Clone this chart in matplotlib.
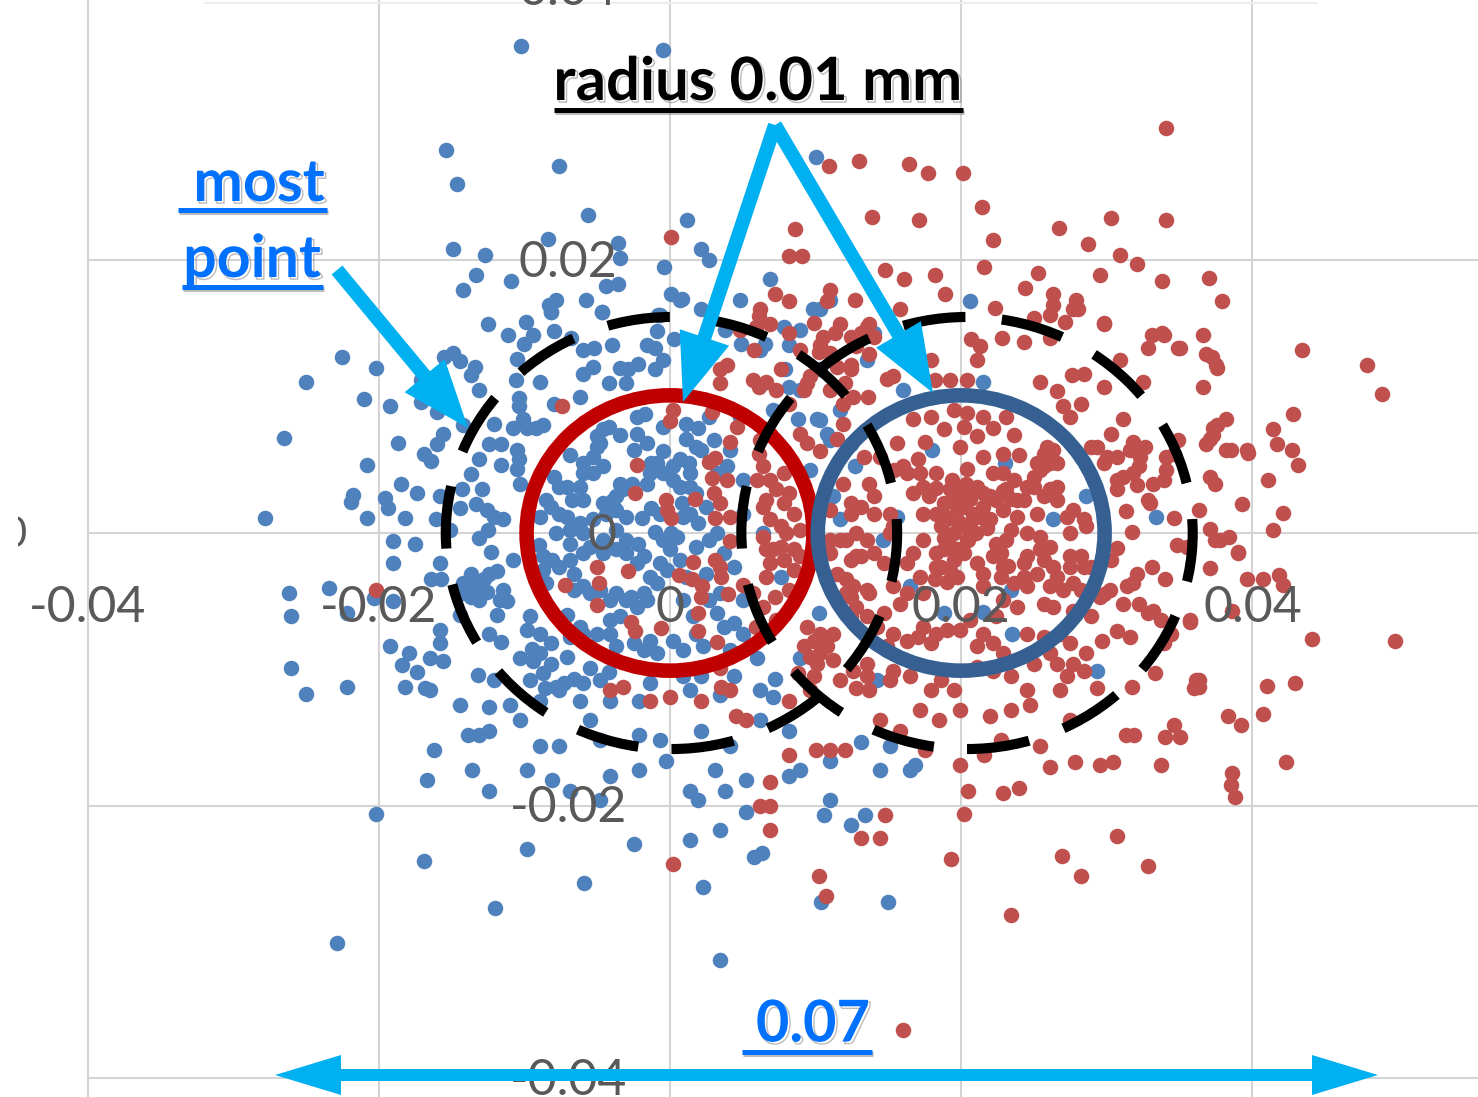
import numpy as np
import matplotlib
matplotlib.use("Agg")
import matplotlib.pyplot as plt
from matplotlib.patches import Ellipse, FancyArrow, Rectangle
import matplotlib.patheffects as pe

# point positions, in micrometres (x, y)
blue_um = [
(-10.2,35.7),(-0.5,35.4),(-15.4,28.1),(-14.6,25.6),(-7.6,26.9),(-5.6,23.3),(1.2,23.0),(10.0,27.6),(-14.9,20.8),(-12.7,20.4),
(-8.4,21.6),(-3.6,21.3),(-3.4,20.2),(-0.4,19.5),(-13.3,18.9),(-10.9,18.5),(-14.2,17.8),(-4.4,18.1),(-3.6,18.3),(0.1,17.5),
(0.8,17.2),(-5.8,17.1),(-7.8,17.1),(-8.3,16.7),(-8.2,16.2),(-4.7,16.2),(-0.8,16.0),
(-22.5,12.9),(-20.2,12.1),(-25.0,11.1),(-21.0,9.8),(-19.2,9.3),(-26.5,7.0),(-18.7,6.6),(-20.8,5.0),(-18.5,3.6),(-17.4,2.9),
(-21.8,2.8),(-21.9,2.3),(-19.6,2.6),(-19.4,1.8),(-27.8,1.1),(-20.8,1.1),(-18.2,1.1),(-16.1,1.0),(-15.8,2.7),(-19.0,-0.6),
(-17.5,-0.8),(-19.0,-2.2),(-26.2,-4.4),(-23.4,-4.0),(-26.0,-6.1),(-20.3,-4.8),(-22.2,-5.9),(-19.0,-5.0),(-19.2,-8.3),(-15.8,-7.1),
(-15.8,-8.1),(-17.9,-8.8),(-16.5,-9.2),(-15.6,-9.4),(-18.4,-9.7),(-26.0,-9.9),(-17.4,-10.2),(-22.2,-11.3),(-18.2,-11.3),(-25.0,-11.8),
(-16.8,-11.4),(-13.2,-10.4),(-12.1,-10.8),(-12.5,15.3),(-9.9,15.5),(-11.1,14.5),(-9.4,14.5),(-10.0,13.9),(-8.0,14.8),(-10.5,12.8),
(-15.5,12.9),(-14.9,13.2),(-14.4,12.6),(-13.4,12.2),(-13.7,11.6),(-13.1,10.5),(-17.1,11.2),(-17.1,9.6),(-16.0,8.9),(-10.6,11.2),
(-8.9,11.1),(-10.4,9.9),(-10.4,9.3),(-10.1,8.4),(-10.8,7.7),(-12.1,8.0),(-14.2,7.9),(-15.6,7.3),(-16.0,6.5),(-16.9,5.8),
(-16.4,5.3),(-12.4,6.5),(-11.6,6.5),(-10.5,6.1),(-10.4,5.4),(-13.1,5.4),(-11.6,5.0),(-13.7,4.3),(-10.5,4.7),(-10.3,3.6),
(-14.3,3.2),(-12.9,3.2),(-13.3,2.1),(-12.6,1.7),(-11.5,1.0),(-12.1,1.2),(-12.5,0.2),(-13.1,-0.4),(-12.3,-1.4),(-10.8,-2.0),
(-14.4,1.8),(-15.1,0.2),(-15.8,-2.2),(-16.4,-3.4),(-15.7,-3.4),(-13.7,-3.0),(-12.4,-3.0),(-11.9,-2.8),(-14.2,-4.4),(-13.3,-3.9),
(-12.6,-4.3),(-11.7,-4.9),(-11.2,-5.0),(-11.9,-6.0),(-14.4,-6.0),(-12.4,-7.4),(-11.6,-8.0),(-9.6,-6.1),(-9.8,-7.1),(-8.9,-7.4),
(-9.5,-8.5),(-10.3,-9.2),(-9.4,-9.4),(-8.2,-9.6),(-7.1,-9.1),(-5.5,-9.9),(-6.6,-10.7),(-7.3,-11.0),(-8.6,-11.4),(-7.8,-11.3),
(-4.2,-10.2),(-8.2,16.2),(-4.7,16.2),(-6.8,14.3),(-6.0,13.4),(-5.2,13.6),(-4.0,13.8),(-0.7,16.0),(-0.9,14.8),(0.3,14.2),
(-1.6,13.8),(-1.0,13.6),(4.9,13.9),(-2.2,12.4),(-3.4,12.1),(-2.9,12.0),(-5.3,12.2),(-6.0,11.7),(-0.5,12.7),(-1.0,12.0),
(-4.2,11.0),(-3.0,11.0),(-8.0,9.5),(-6.2,10.0),(-2.3,8.5),(-1.7,8.7),(-0.5,7.8),(1.1,8.0),(1.9,7.7),(1.1,6.9),
(-4.2,7.8),(-5.0,7.1),(-3.4,7.2),(-2.3,7.3),(-1.6,6.6),(-0.5,6.0),(-9.2,7.7),(-8.7,7.9),(-9.8,7.7),
(-6.9,5.7),(-6.0,5.1),(-5.3,4.4),(-4.6,4.9),(-5.0,6.3),(-5.3,5.6),(-8.0,4.1),(-7.1,3.4),(-6.2,3.4),(-6.0,2.4),
(-8.5,2.4),(-8.9,1.2),(-7.6,1.4),(-6.9,0.2),(-6.2,0.7),(-4.6,2.2),(-3.7,1.7),(-3.0,1.2),(-1.9,1.1),(-1.3,1.8),
(-3.4,3.6),(-2.6,3.6),(-1.3,5.1),(-1.4,4.4),(0.2,4.9),(1.3,5.1),(1.4,4.4),(0.2,3.9),(0.8,2.2),(1.4,1.4),
(1.9,0.7),(0.1,0.0),(-1.0,0.1),(-2.2,-0.8),(-3.0,-1.5),(-4.6,-0.5),(-3.7,-1.2),(-6.0,-1.5),(-6.9,-0.8),(-9.0,-0.9),
(-8.1,-2.0),(-8.7,-2.7),(-7.6,-2.5),(-6.6,-3.0),(-6.0,-3.9),(-4.8,-4.2),(-3.7,-4.4),(-2.7,-4.7),(-1.8,-4.4),(-1.4,-3.2),
(-0.7,-2.2),(0.0,-1.2),(0.7,-2.0),(1.8,-1.0),(2.7,-0.5),(3.2,0.0),(3.7,-1.5),(4.4,-2.5),(1.1,-3.2),(2.5,-3.0),
(3.4,-4.4),(3.2,-5.9),(4.4,-6.6),(0.9,-8.6),(0.2,-7.9),(-1.4,-7.9),(-4.1,-6.4),(-4.1,-7.4),(-5.0,-7.4),(-3.7,-8.3),
(-1.8,-8.6),(-7.1,-6.0),(-6.2,-6.9),(5.0,-4.9),(2.3,-8.3),(4.1,-8.6),(0.9,-10.5),(4.4,-10.5),(5.0,1.4),(1.8,2.9),
(0.7,5.4),(3.0,6.8),(1.8,6.3),(4.1,6.1),(5.0,3.9),(2.7,8.5),(4.8,8.5),(3.9,4.9),
(-20.2,-20.6),(-16.9,-24.1),(-22.9,-30.1),(-12.0,-27.5),(-5.9,-25.7),(-9.8,-23.2),(-2.5,-22.8),(3.4,-31.3),(2.3,-26.0),(10.4,-27.1),
(15.0,-27.1),(6.3,-23.5),(5.8,-23.8),(1.4,-22.5),(3.4,-21.8),(5.2,-20.5),(-16.7,-18.1),(-16.2,-15.9),(-13.9,-14.8),(-12.4,-14.5),
(-13.6,-17.4),(-12.4,-18.9),(-9.8,-17.4),(-8.1,-18.1),(-6.9,-18.9),(-4.8,-19.6),(-4.1,-17.8),(-2.1,-17.4),(-0.3,-16.7),(1.4,-18.9),
(1.9,-19.6),(3.1,-17.4),(3.8,-18.9),(5.2,-18.1),(8.2,-17.8),(8.9,-17.4),(11.0,-19.6),(10.6,-20.7),(12.4,-21.4),(13.4,-20.7),
(11.0,-16.7),(13.1,-15.3),(15.1,-15.6),(16.5,-17.4),(16.8,-17.0),(14.4,-17.4),(-4.8,-15.2),(-5.5,-13.7),(-7.6,-15.6),(-8.9,-15.6),
(-10.3,-13.7),(-2.1,-14.8),(-0.7,-15.2),(2.1,-14.5),(4.1,-15.6),(6.2,-13.7),(8.2,-14.5),(-4.1,-12.3),(-6.2,-12.3),(-2.1,-12.3),
(1.4,-11.5),(3.4,-11.9),(6.2,-11.5),(-16.5,-11.5),(-14.4,-12.6),(-12.4,-12.8),(-13.1,-14.8),(-11.0,-12.6),(-8.9,-12.3),(-7.6,-11.5),
(-9.6,-10.8),(-4.8,-10.8),
(2.1,20.8),(2.7,20.0),(6.9,18.6),(4.8,17.1),(2.1,16.4),(0.7,17.1),(3.8,14.9),(6.2,13.4),(8.2,13.8),(8.9,14.9),
(10.3,16.4),(11.0,17.1),(10.3,12.0),(8.9,10.5),(10.3,8.3),(11.7,9.0),(12.4,6.5),(11.0,6.8),(9.6,4.6),
(12.7,4.9),(18.0,6.1),(23.0,5.1),(21.5,11.1),(26.3,1.0),(28.6,2.7),(33.4,1.2),(11.7,1.0),(11.2,2.7),(15.6,1.2),
(14.6,-0.5),(16.5,-3.9),(18.8,-5.9),(21.5,-5.8),(23.4,-4.2),(23.5,-7.4),(29.3,-10.1),(10.2,-5.9),(13.5,12.7),(7.9,12.0),
(8.2,10.7),(16.0,10.5),(10.1,8.4),(10.8,7.3),(8.8,8.4),(7.1,9.0),(6.4,0.0),(7.6,-3.2),(6.0,-9.2),(8.9,-9.2),
(7.2,-10.7),(14.2,-10.8),(7.1,-12.0),(20.6,17.0),(9.8,16.4),(7.8,15.1),(6.5,13.9),(14.0,14.7),
(-4.6,7.6),(-4.8,6.6),(-6.0,4.4),(-7.6,3.4),(-6.7,2.4),(-8.2,1.9),(-7.1,1.2),(-7.8,0.0),(-6.0,0.0),(-5.3,1.0),
(-3.7,0.2),(-3.0,-0.5),(-1.8,-1.7),(-2.3,-2.2),(-4.6,-1.5),(-5.5,-1.0),(-6.9,-2.0),(-8.7,-1.7),(-8.5,-3.7),(-6.6,-4.2),
(-5.5,-4.4),(-3.0,-4.9),(-2.3,-5.4),(-1.6,-4.9),(-0.9,-3.7),(-0.2,-2.7),(-0.5,-0.5),(0.5,-0.3),(0.9,1.2),(0.7,3.4),
(1.4,3.4),(2.5,1.9),(2.1,6.1),(3.2,4.4),(-3.7,2.7),(-4.4,1.4),(-3.9,2.4),(-0.7,1.4),(-0.5,4.4),(-0.9,5.1),
(-2.5,6.1),(-3.2,3.2),(-1.6,3.6),(-4.1,-4.9),(-3.4,-6.1),(-6.0,-7.4),(-6.9,-7.6),(-8.2,-8.1),(-8.9,-8.8),(-2.5,-8.1),
(-0.9,-8.8),(1.8,-7.4),(3.7,-6.9),(5.0,-7.4),(2.7,-4.9),(0.9,-4.9),(1.6,-6.1),(-14.2,-3.7),(-13.1,-4.9),(-11.5,-4.2),
(-13.7,-4.7),(-12.8,-3.4),(-8.7,-10.3),(-6.0,-11.0),(-1.4,-11.0),(2.1,-10.5),
]

red_um = [
(34.1,29.7),(10.9,26.9),(13.0,27.3),(16.4,27.1),(17.7,26.4),(20.1,26.4),(21.4,23.9),(13.9,23.2),(17.1,23.0),(22.2,21.5),
(26.7,22.4),(30.3,23.1),(34.1,23.0),(28.7,21.2),(30.9,20.4),(32.1,19.7),(37.0,18.7),(33.8,18.5),(37.9,17.0),(29.5,18.9),
(25.3,19.1),(24.4,18.0),(21.6,19.5),(0.1,21.7),(8.6,22.3),(8.2,20.3),(9.1,20.3),(43.4,13.4),(47.9,12.3),(48.9,10.2),
(37.5,12.3),(36.8,13.1),(35.0,13.6),(32.8,13.6),(33.9,14.5),(29.8,15.3),(27.9,17.1),(28.0,16.4),(26.3,17.5),(26.1,16.0),
(27.1,15.5),(42.8,8.7),(41.4,7.6),(41.7,6.5),(42.7,6.1),(43.1,5.0),(41.1,3.9),(39.7,5.9),(38.5,6.1),(37.3,7.2),
(37.6,7.9),(36.8,6.5),(42.1,1.5),(41.4,0.2),(39.0,-1.5),(37.4,-0.5),(39.6,-3.4),(40.7,-3.4),(41.8,-3.1),(42.1,-3.8),
(44.1,-7.8),(49.8,-7.9),(38.6,-5.7),(42.9,-11.0),(41.0,-11.2),(36.1,-10.8),(36.3,-11.3),(38.3,-13.4),(39.2,-14.1),(40.7,-13.3),
(34.6,-14.1),(35.0,-15.0),(34.0,-15.0),(31.9,-14.8),(31.3,-14.8),(33.7,-17.0),(38.6,-17.6),(38.5,-18.5),(38.8,-19.4),(42.3,-16.8),
(27.8,-16.8),(26.1,-17.2),(30.4,-16.8),(29.5,-17.0),(24.0,-18.7),(22.9,-19.1),(20.5,-18.9),(20.2,-20.6),(30.7,-22.2),(26.9,-23.7),
(28.2,-25.2),(32.8,-24.4),(19.3,-23.9),(23.4,-28.0),(10.2,-25.2),(10.7,-26.6),(16.0,-36.5),(0.2,-24.3),(6.9,-21.8),(6.9,-20.0),
(13.1,-22.4),(14.4,-22.4),(14.8,-20.7),(35.7,-6.4),(33.7,-6.4),
(6.9,-18.3),(6.2,-20.0),(8.2,-16.3),(10.0,-15.9),(11.0,-15.9),(12.0,-15.9),(4.5,-13.4),(5.2,-13.7),(2.1,-12.3),(-1.4,-12.3),
(-4.1,-11.5),(4.1,-11.5),(8.2,-12.3),(9.6,-11.5),(11.7,-10.8),(13.7,-11.5),(14.4,-13.7),(17.2,-13.0),(18.5,-13.7),(19.9,-13.0),
(22.0,-13.4),(23.4,-13.0),(24.7,-12.6),(26.8,-11.5),(27.5,-13.7),(22.7,-15.2),(19.9,-17.0),(21.6,-16.3),(25.4,-15.6),(17.5,-15.9),
(15.8,-14.5),
(6.2,16.4),(7.2,17.5),(11.0,17.8),(12.7,17.1),(14.8,19.3),(16.1,18.6),(18.2,18.9),(18.9,17.5),(15.8,16.4),(13.7,15.3),
(11.7,15.3),(10.3,13.8),(8.9,13.4),(6.9,15.3),(5.8,13.4),(7.6,12.0),(4.8,14.9),(3.4,12.0),(2.1,13.1),(13.7,13.1),(12.4,12.0),
(19.5,9.0),(20.4,8.8),(21.5,8.5),(23.1,8.5),(17.9,8.5),(16.7,8.4),(18.8,7.6),(20.2,7.8),(21.1,7.1),(22.2,7.7),
(23.6,7.2),(15.6,6.6),(17.5,6.7),(19.9,6.3),(16.0,4.9),(17.0,5.4),(17.2,4.4),(18.3,4.4),(20.4,4.7),(21.5,5.6),
(22.9,5.8),(24.0,5.7),(25.7,5.8),(26.3,6.1),(26.1,5.1),(25.4,4.6),(25.0,4.1),(22.2,4.4),(23.6,3.9),(24.5,3.4),
(26.6,3.4),(25.7,2.7),(19.2,3.2),(20.4,2.7),(21.5,2.9),(22.4,2.4),(18.8,2.2),(19.7,1.9),(20.8,1.4),(21.5,1.9),
(22.9,1.7),(23.8,1.2),(25.2,1.4),(17.4,1.4),(18.6,0.5),(19.5,0.0),(20.6,0.7),(22.0,1.0),(23.4,0.2),(27.3,1.2),
(28.4,1.0),(27.5,0.0),(25.4,-0.3),(17.4,-0.5),(18.3,-1.5),(19.5,-2.0),(20.2,-1.5),(18.6,-2.5),(22.4,-0.8),(22.2,-1.7),
(24.5,-1.7),(25.7,-2.0),(26.3,-2.5),(28.2,-1.7),(27.5,-2.5),(28.4,-2.5),(16.7,-1.5),(17.2,-3.2),(19.7,-3.2),(21.5,-3.0),
(22.7,-3.2),(24.3,-3.2),(26.1,-3.9),(27.0,-4.2),(24.5,-3.9),(25.7,-5.2),(26.3,-5.4),(28.2,-4.2),(27.7,-5.7),(28.9,-6.1),
(17.4,-4.4),(16.3,-2.2),(15.8,-5.2),(14.7,-5.9),(18.3,-7.4),(19.0,-7.1),(17.9,-8.1),(16.3,-7.9),(15.3,-7.4),(21.5,-7.4),
(22.2,-8.1),(22.9,-8.8),(24.5,-7.4),(25.7,-7.6),(26.8,-7.4),(29.5,-4.7),(12.4,-2.0),(12.8,-1.7),(12.1,-0.5),(11.0,-0.5),
(11.0,1.7),(12.4,2.2),(13.1,1.9),(14.0,1.4),(15.1,0.0),(13.5,-0.5),(14.0,2.7),(13.7,3.6),(11.9,3.6),(12.1,-3.4),
(13.5,-4.2),(12.4,-4.7),(11.0,-1.5),(11.5,-3.0),(14.2,-6.9),
(19.2,11.2),(20.4,11.2),(18.2,11.2),(14.9,11.3),(15.3,11.5),(17.9,12.7),(12.4,12.3),(11.5,12.2),(14.0,14.4),(13.1,14.7),
(11.3,14.7),(10.5,14.4),(10.2,13.3),(9.9,15.4),(8.2,14.7),(9.6,11.5),(11.0,10.5),(12.0,11.0),(13.6,10.0),(12.6,10.0),
(7.3,10.5),(5.7,11.2),(6.1,10.7),(20.7,14.2),(21.3,13.7),(21.1,12.7),(22.8,14.3),(24.3,14.0),(26.1,14.3),(25.0,15.8),
(29.8,15.4),(27.7,16.4),(26.3,16.7),(22.3,16.5),(25.4,11.1),(29.8,10.7),(27.6,11.6),(28.4,11.7),(30.9,12.7),(33.8,14.7),
(33.1,14.5),(34.9,13.6),(36.6,14.5),(37.2,12.9),(37.6,12.1),(36.6,10.7),(32.5,11.1),(26.6,10.4),(27.0,9.3),(28.2,9.5),
(27.5,8.5),(31.1,8.4),(30.3,7.3),(29.3,6.3),(29.8,5.1),(30.7,5.6),(31.8,6.7),(32.6,6.3),(32.2,4.9),(31.1,4.1),
(30.7,3.2),(32.1,3.5),(33.2,3.6),(31.3,1.6),(33.0,2.2),(34.6,1.1),(36.3,1.7),(31.7,0.1),(37.1,0.3),(37.8,-0.5),
(38.4,-0.3),(39.0,-1.4),(39.3,2.1),(37.1,4.1),(37.4,3.6),(34.9,6.8),(34.6,5.8),(34.1,4.6),(37.3,7.7),(37.1,6.9),
(38.2,8.4),(38.2,6.1),(39.6,6.1),(34.8,-0.9),(35.5,-1.0),(30.7,-1.1),(30.3,-2.0),(33.1,-2.5),(32.1,-3.0),(37.1,-2.6),
(34.0,-3.4),(31.4,-3.9),(32.2,-5.2),(32.8,-5.9),(31.1,-5.2),(29.8,-4.5),(35.7,-6.5),(34.4,-7.4),(33.9,-8.1),(30.7,-7.2),
(31.6,-7.6),(29.7,-7.9),(33.3,-10.3),(31.7,-11.3),(36.3,-10.8),(36.0,-11.4),(29.3,-11.4),(27.3,-10.5),(28.6,-8.8),(27.5,-8.1),
(26.6,-9.6),(24.5,-11.5),(23.4,-10.5),(22.2,-10.1),(19.5,-11.5),(17.9,-11.5),(16.5,-10.5),(15.3,-10.1),(13.5,-9.6),(12.8,-11.4),
(10.3,-7.4),(9.4,-6.9),(10.8,-8.3),(9.6,-9.1),(9.9,-10.5),(8.8,-10.3),
(6.4,4.9),(6.9,3.9),(7.8,4.4),(8.2,2.9),(6.4,1.9),(7.8,2.2),(8.5,1.4),(7.6,0.5),(8.9,0.2),(6.4,-0.3),
(7.1,-1.2),(7.8,-2.0),(8.5,-1.2),(6.6,-3.2),(7.2,-4.7),(5.7,-4.4),(9.4,6.6),(10.3,6.0),(6.1,5.8),(11.5,6.9),(11.9,8.0),
(-7.4,9.3),(0.2,9.0),(0.0,8.2),(3.9,12.3),(3.4,11.0),(2.9,8.9),(4.6,7.8),(4.1,6.7),(2.7,5.2),(3.1,5.5),
(-2.3,5.0),(-2.4,2.9),(-0.3,2.4),(-0.2,1.7),(0.1,1.1),(1.7,2.5),(2.9,4.0),(3.9,3.9),(3.0,2.9),(3.4,2.2),
(3.1,1.1),(4.1,1.2),(4.1,-0.6),(1.6,-2.1),(3.1,-2.0),(3.4,-2.5),(3.5,-3.2),(0.6,-3.1),(1.5,-3.4),(2.2,-3.9),
(2.1,-4.7),(4.0,-4.5),(5.0,-3.8),(1.9,-5.9),(1.9,-7.2),(3.2,-8.0),(-0.6,-7.0),(-2.7,-6.5),(-2.4,-7.2),(-5.0,-2.5),
(-2.9,-2.8),(-4.9,-3.7),(-7.2,-3.8),(-5.0,-5.3),(-20.2,-4.2),(3.4,-9.9),(3.5,-11.3),(-3.2,-11.3),(0.0,-12.0),
(19.0,1.0),(20.0,1.9),(21.0,0.0),(20.6,2.5),(19.8,0.9),(21.0,3.2),(19.3,-1.0),(20.5,-0.5),(18.8,-0.4),(21.8,0.4),
(20.3,3.6),(19.4,3.9),(18.3,3.3),(17.8,2.7),(22.9,3.1),(23.4,2.5),(18.2,-3.4),(19.0,-3.6),(23.2,-2.4),(16.3,-4.4),
(19.9,3.2),(21.1,3.4),(22.0,2.7),(19.5,2.4),(20.2,1.9),(21.3,1.2),(20.2,0.5),(19.0,1.2),(18.3,1.4),(19.2,-1.0),
(20.4,-0.5),(18.8,-1.2),(19.7,-1.2),(18.3,-2.5),(19.2,-2.7),(23.1,-0.5),(22.7,-1.5),(23.8,2.4),(23.1,3.2),(24.3,2.4),
(22.9,4.4),(25.7,4.9),(26.6,5.1),(25.9,6.3),(25.2,5.1),(25.0,3.4),(26.1,3.2),(26.6,2.4),(27.7,1.7),(28.6,0.5),
(24.5,0.0),(26.1,-1.0),(25.4,-1.2),(24.3,-2.2),(25.2,-3.0),(26.6,-3.2),(27.5,-1.7),(27.7,-3.7),(28.9,-2.5),(21.1,-2.2),
(21.5,-3.9),(22.9,-2.5),(23.6,-3.7),(23.8,-5.4),(22.9,-4.9),(22.4,-6.1),(20.6,-6.4),(19.9,-7.1),(21.1,-8.3),(17.4,-6.9),
(17.0,-7.6),(15.3,-3.9),(16.3,4.4),(17.4,3.4),(16.7,2.9),(15.4,4.6),(14.4,5.6),(13.3,5.6),(15.1,1.4),(15.3,0.5),
(12.8,0.0),(12.4,1.4),(11.7,-0.5),(13.1,-1.7),(14.0,-1.5),(14.7,-2.2),(13.7,-4.4),(12.8,-5.4),(12.6,-3.9),(12.1,-4.4),
(13.5,-6.1),(12.4,-6.1),(14.9,-8.3),(11.2,-9.3),(10.3,-8.8),(11.2,-7.4),(9.9,-7.9),(9.2,-8.3),(10.1,-9.6),(12.6,-10.1),
(13.5,-10.5),(15.1,-10.8),(18.6,-10.8),(21.1,-9.8),(25.0,-9.6),(26.1,-8.8),(27.7,-9.6),(28.4,-10.1),
(6.1,15.9),(5.9,15.1),(8.2,17.0),(10.8,17.0),(12.4,14.4),(13.5,15.1),(12.8,13.7),(11.0,13.2),(11.9,9.5),(9.2,10.5),
(6.6,11.1),(9.4,11.0),(8.2,9.5),(8.9,7.3),(6.9,7.3),(6.2,6.8),(6.0,3.9),(7.3,3.2),(6.6,2.4),(6.9,1.0),
(8.0,0.0),(6.6,-1.2),(7.6,-1.0),(8.9,-1.7),(8.5,-2.7),(6.9,-2.2),(8.2,-4.2),(6.4,-5.4),(7.3,-6.4),(5.9,-6.9),
(28.9,6.3),(30.0,5.6),(31.6,6.1),(32.3,5.6),(31.8,4.4),(30.7,3.9),(33.9,3.9),(32.8,2.4),(34.1,5.6),(30.2,-4.2),
(31.8,-3.7),(33.2,-5.7),
]

x_ticks = [-0.04, -0.02, 0.0, 0.02, 0.04]
y_ticks = [-0.04, -0.02, 0.0, 0.02, 0.04]
x_tick_labels = ["-0.04", "-0.02", "0", "0.02", "0.04"]
y_tick_labels = ["-0.04", "-0.02", "0", "0.02", "0.04"]

BLUE, RED = "#4F81BD", "#C0504D"
GREY, TXT = "#D4D4D4", "#595959"
ARROW, LINK = "#00B0F0", "#0070FF"
FONT = "Lato"

blue = np.array(blue_um) / 1000
red = np.array(red_um) / 1000

fig = plt.figure(figsize=(14.78, 10.97), dpi=100, facecolor="white")
ax = fig.add_axes([0, 0, 1, 1])
ax.set_xlim(-670 / 14560, 808 / 14560)
ax.set_ylim(-564 / 13630, 533 / 13630)
ax.axis("off")

ax.vlines(x_ticks, ax.get_ylim()[0], ax.get_ylim()[1], color=GREY, lw=1.5, zorder=1)
ax.hlines(y_ticks[:-1], -0.04, ax.get_xlim()[1], color=GREY, lw=1.5, zorder=1)
ax.hlines(0.0389, -0.0320, 0.0445, color="#EEEEEE", lw=1.5, zorder=1)

ax.scatter(blue[:, 0], blue[:, 1], s=125, color=BLUE, linewidths=0, zorder=2)
ax.scatter(red[:, 0], red[:, 1], s=125, color=RED, linewidths=0, zorder=3)

# axis labels sit at the axes crossing, as in a spreadsheet chart
for xv, lab in zip(x_ticks, x_tick_labels):
    ax.text(xv, -0.0055, lab, ha="center", va="center", fontsize=36, color=TXT,
            family=FONT, zorder=4, clip_on=False)
for yv, lab in zip(y_ticks, y_tick_labels):
    xp = -0.0047 if lab == "0" else -0.0070
    ax.text(xp, yv - 0.0002, lab, ha="center", va="center", fontsize=36, color=TXT,
            family=FONT, zorder=4, clip_on=False)

ring_centres = [0.0, 0.02]
ring_colours = ["#C00000", "#376092"]
for cx, col in zip(ring_centres, ring_colours):
    ax.add_patch(Ellipse((cx, 0), 0.0197, 0.0202, fill=False, ec=col, lw=10.5, zorder=5))

dash_centres = [0.0001, 0.0204]
for cx in dash_centres:
    ax.add_patch(Ellipse((cx, 0), 0.0310, 0.0317, fill=False, ec="black", lw=7.3,
                         ls=(0, (6.2, 3.6)), zorder=6))

# overlay in picture coordinates for the slide annotations
ov = fig.add_axes([0, 0, 1, 1])
ov.set_xlim(0, 1478)
ov.set_ylim(1097, 0)
ov.axis("off")
ov.patch.set_alpha(0)

def arrow(x0, y0, x1, y1, w=14, hw=52, hl=68):
    ov.add_patch(FancyArrow(x0, y0, x1 - x0, y1 - y0, width=w, head_width=hw, head_length=hl,
                            length_includes_head=True, color=ARROW, lw=0, zorder=7))

arrow(337, 270, 468, 428)
arrow(775, 125, 683, 402)
arrow(775, 125, 933, 393)
arrow(826, 1075, 275, 1075, w=12, hw=40, hl=66)
arrow(826, 1075, 1378, 1075, w=12, hw=40, hl=66)

def label(xc, yc, s, col, size, x0, x1, yu):
    t = ov.text(xc, yc, s, ha="center", va="center", fontsize=size, fontweight="bold",
                color=col, family=FONT, zorder=8)
    t.set_path_effects([pe.SimpleLineShadow(offset=(1.5, -1.5), shadow_color="#777777", alpha=0.5, linewidth=1),
                        pe.Normal()])
    ln, = ov.plot([x0, x1], [yu, yu], color=col, lw=3.6, solid_capstyle="butt", zorder=8)
    ln.set_path_effects([pe.SimpleLineShadow(offset=(1, -1.5), shadow_color="#777777", alpha=0.5), pe.Normal()])

label(758, 83, "radius 0.01 mm", "black", 43, 554, 963, 110)
label(259, 184, "most", LINK, 42.5, 178, 327, 210)
label(252, 260, "point", LINK, 42.5, 182, 323, 287)
label(813, 1025, "0.07", LINK, 41.5, 742, 872, 1052)

# sliver of a cropped axis label on the left edge
ov.text(15, 535, "0", ha="center", va="center", fontsize=30, color=TXT, family=FONT, zorder=8)
ov.add_patch(Rectangle((0, 500), 18, 70, color="white", lw=0, zorder=9))

fig.savefig("out.png", dpi=100)
